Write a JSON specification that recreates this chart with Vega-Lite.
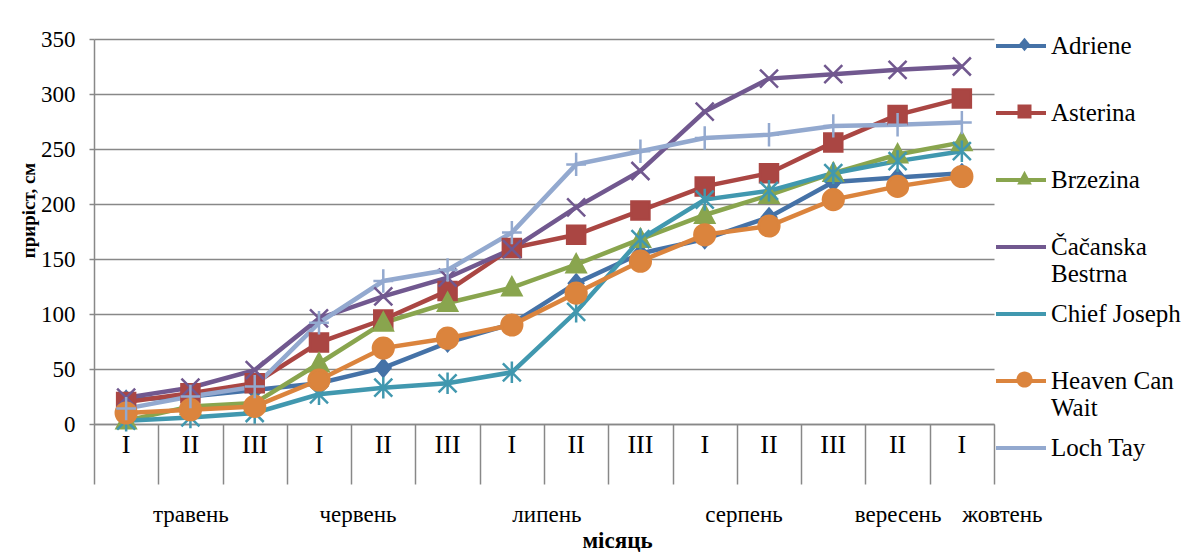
{
  "$schema": "https://vega.github.io/schema/vega-lite/v6.json",
  "width": 900,
  "height": 385,
  "autosize": {"type": "none"},
  "padding": {"left": 94, "top": 39, "right": 208, "bottom": 133},
  "background": "white",
  "config": {
    "view": {"stroke": null},
    "font": "Liberation Serif",
    "axis": {"labelFont": "Liberation Serif", "titleFont": "Liberation Serif"},
    "legend": {"labelFont": "Liberation Serif", "titleFont": "Liberation Serif", "padding": 0}
  },
  "data": {
    "values": [
      {"period": "травень|I", "variety": "Adriene", "growth": 22},
      {"period": "травень|II", "variety": "Adriene", "growth": 25},
      {"period": "травень|III", "variety": "Adriene", "growth": 31},
      {"period": "червень|I", "variety": "Adriene", "growth": 37},
      {"period": "червень|II", "variety": "Adriene", "growth": 51},
      {"period": "червень|III", "variety": "Adriene", "growth": 74},
      {"period": "липень|I", "variety": "Adriene", "growth": 91},
      {"period": "липень|II", "variety": "Adriene", "growth": 128},
      {"period": "липень|III", "variety": "Adriene", "growth": 155},
      {"period": "серпень|I", "variety": "Adriene", "growth": 168},
      {"period": "серпень|II", "variety": "Adriene", "growth": 188},
      {"period": "серпень|III", "variety": "Adriene", "growth": 220},
      {"period": "вересень|II", "variety": "Adriene", "growth": 224},
      {"period": "жовтень|I", "variety": "Adriene", "growth": 228},
      {"period": "травень|I", "variety": "Asterina", "growth": 20},
      {"period": "травень|II", "variety": "Asterina", "growth": 28},
      {"period": "травень|III", "variety": "Asterina", "growth": 37},
      {"period": "червень|I", "variety": "Asterina", "growth": 74},
      {"period": "червень|II", "variety": "Asterina", "growth": 95},
      {"period": "червень|III", "variety": "Asterina", "growth": 121},
      {"period": "липень|I", "variety": "Asterina", "growth": 160},
      {"period": "липень|II", "variety": "Asterina", "growth": 172},
      {"period": "липень|III", "variety": "Asterina", "growth": 194},
      {"period": "серпень|I", "variety": "Asterina", "growth": 216},
      {"period": "серпень|II", "variety": "Asterina", "growth": 228},
      {"period": "серпень|III", "variety": "Asterina", "growth": 256},
      {"period": "вересень|II", "variety": "Asterina", "growth": 281},
      {"period": "жовтень|I", "variety": "Asterina", "growth": 296},
      {"period": "травень|I", "variety": "Brzezina", "growth": 3},
      {"period": "травень|II", "variety": "Brzezina", "growth": 16},
      {"period": "травень|III", "variety": "Brzezina", "growth": 19},
      {"period": "червень|I", "variety": "Brzezina", "growth": 55},
      {"period": "червень|II", "variety": "Brzezina", "growth": 92},
      {"period": "червень|III", "variety": "Brzezina", "growth": 110},
      {"period": "липень|I", "variety": "Brzezina", "growth": 124},
      {"period": "липень|II", "variety": "Brzezina", "growth": 145},
      {"period": "липень|III", "variety": "Brzezina", "growth": 168},
      {"period": "серпень|I", "variety": "Brzezina", "growth": 190},
      {"period": "серпень|II", "variety": "Brzezina", "growth": 208},
      {"period": "серпень|III", "variety": "Brzezina", "growth": 228},
      {"period": "вересень|II", "variety": "Brzezina", "growth": 245},
      {"period": "жовтень|I", "variety": "Brzezina", "growth": 256},
      {"period": "травень|I", "variety": "Čačanska Bestrna", "growth": 24},
      {"period": "травень|II", "variety": "Čačanska Bestrna", "growth": 33},
      {"period": "травень|III", "variety": "Čačanska Bestrna", "growth": 49},
      {"period": "червень|I", "variety": "Čačanska Bestrna", "growth": 96},
      {"period": "червень|II", "variety": "Čačanska Bestrna", "growth": 116},
      {"period": "червень|III", "variety": "Čačanska Bestrna", "growth": 133},
      {"period": "липень|I", "variety": "Čačanska Bestrna", "growth": 159},
      {"period": "липень|II", "variety": "Čačanska Bestrna", "growth": 197},
      {"period": "липень|III", "variety": "Čačanska Bestrna", "growth": 230},
      {"period": "серпень|I", "variety": "Čačanska Bestrna", "growth": 284},
      {"period": "серпень|II", "variety": "Čačanska Bestrna", "growth": 314},
      {"period": "серпень|III", "variety": "Čačanska Bestrna", "growth": 318},
      {"period": "вересень|II", "variety": "Čačanska Bestrna", "growth": 322},
      {"period": "жовтень|I", "variety": "Čačanska Bestrna", "growth": 325},
      {"period": "травень|I", "variety": "Chief Joseph", "growth": 3},
      {"period": "травень|II", "variety": "Chief Joseph", "growth": 6},
      {"period": "травень|III", "variety": "Chief Joseph", "growth": 10},
      {"period": "червень|I", "variety": "Chief Joseph", "growth": 27},
      {"period": "червень|II", "variety": "Chief Joseph", "growth": 33},
      {"period": "червень|III", "variety": "Chief Joseph", "growth": 37},
      {"period": "липень|I", "variety": "Chief Joseph", "growth": 47},
      {"period": "липень|II", "variety": "Chief Joseph", "growth": 102},
      {"period": "липень|III", "variety": "Chief Joseph", "growth": 168},
      {"period": "серпень|I", "variety": "Chief Joseph", "growth": 204},
      {"period": "серпень|II", "variety": "Chief Joseph", "growth": 212},
      {"period": "серпень|III", "variety": "Chief Joseph", "growth": 228},
      {"period": "вересень|II", "variety": "Chief Joseph", "growth": 239},
      {"period": "жовтень|I", "variety": "Chief Joseph", "growth": 248},
      {"period": "травень|I", "variety": "Heaven Can Wait", "growth": 10},
      {"period": "травень|II", "variety": "Heaven Can Wait", "growth": 13},
      {"period": "травень|III", "variety": "Heaven Can Wait", "growth": 16},
      {"period": "червень|I", "variety": "Heaven Can Wait", "growth": 40},
      {"period": "червень|II", "variety": "Heaven Can Wait", "growth": 69},
      {"period": "червень|III", "variety": "Heaven Can Wait", "growth": 78},
      {"period": "липень|I", "variety": "Heaven Can Wait", "growth": 90},
      {"period": "липень|II", "variety": "Heaven Can Wait", "growth": 119},
      {"period": "липень|III", "variety": "Heaven Can Wait", "growth": 148},
      {"period": "серпень|I", "variety": "Heaven Can Wait", "growth": 172},
      {"period": "серпень|II", "variety": "Heaven Can Wait", "growth": 180},
      {"period": "серпень|III", "variety": "Heaven Can Wait", "growth": 204},
      {"period": "вересень|II", "variety": "Heaven Can Wait", "growth": 216},
      {"period": "жовтень|I", "variety": "Heaven Can Wait", "growth": 225},
      {"period": "травень|I", "variety": "Loch Tay", "growth": 14},
      {"period": "травень|II", "variety": "Loch Tay", "growth": 25},
      {"period": "травень|III", "variety": "Loch Tay", "growth": 34},
      {"period": "червень|I", "variety": "Loch Tay", "growth": 92},
      {"period": "червень|II", "variety": "Loch Tay", "growth": 130},
      {"period": "червень|III", "variety": "Loch Tay", "growth": 140},
      {"period": "липень|I", "variety": "Loch Tay", "growth": 174},
      {"period": "липень|II", "variety": "Loch Tay", "growth": 236},
      {"period": "липень|III", "variety": "Loch Tay", "growth": 248},
      {"period": "серпень|I", "variety": "Loch Tay", "growth": 260},
      {"period": "серпень|II", "variety": "Loch Tay", "growth": 263},
      {"period": "серпень|III", "variety": "Loch Tay", "growth": 271},
      {"period": "вересень|II", "variety": "Loch Tay", "growth": 272},
      {"period": "жовтень|I", "variety": "Loch Tay", "growth": 274}
    ]
  },
  "encoding": {
    "y": {
      "field": "growth",
      "type": "quantitative",
      "scale": {"domain": [0, 350], "nice": false, "zero": true},
      "axis": {
        "values": [0, 50, 100, 150, 200, 250, 300, 350],
        "grid": true,
        "gridColor": "#888888",
        "gridWidth": 1.5,
        "domainColor": "#888888",
        "domainWidth": 1.5,
        "tickColor": "#888888",
        "tickWidth": 1.5,
        "tickSize": 5,
        "labelFont": "Liberation Serif",
        "labelFontSize": 23,
        "labelPadding": 14,
        "labelColor": "black",
        "title": "приріст, см",
        "titleFont": "Liberation Serif",
        "titleFontSize": 19,
        "titleFontWeight": "bold",
        "titleColor": "black",
        "titleAngle": -90,
        "titleX": -66,
        "titleY": 171,
        "titleAlign": "center",
        "titleBaseline": "middle"
      }
    }
  },
  "layer": [
    {
      "mark": {"type": "line", "strokeWidth": 4.5},
      "encoding": {
        "x": {
          "field": "period",
          "type": "nominal",
          "scale": {
            "type": "band",
            "domain": ["травень|I", "травень|II", "травень|III", "червень|I", "червень|II", "червень|III", "липень|I", "липень|II", "липень|III", "серпень|I", "серпень|II", "серпень|III", "вересень|II", "жовтень|I"],
            "paddingInner": 0,
            "paddingOuter": 0
          },
          "axis": {
            "orient": "bottom",
            "title": null,
            "ticks": false,
            "grid": false,
            "domain": true,
            "domainColor": "#888888",
            "domainWidth": 1.5,
            "labelExpr": "split(datum.value, '|')[1]",
            "labelAngle": 0,
            "labelFont": "Liberation Serif",
            "labelFontSize": 26,
            "labelPadding": 7,
            "labelColor": "black",
            "labelOverlap": false
          }
        },
        "color": {
          "field": "variety",
          "type": "nominal",
          "scale": {
            "domain": ["Adriene", "Asterina", "Brzezina", "Čačanska Bestrna", "Chief Joseph", "Heaven Can Wait", "Loch Tay"],
            "range": ["#4572A7", "#AA4643", "#89A54E", "#71588F", "#4198AF", "#DB843D", "#93A9CF"]
          },
          "legend": {
            "orient": "none",
            "legendX": 900,
            "legendY": -20,
            "title": null,
            "direction": "vertical",
            "gridAlign": "all",
            "rowPadding": 0,
            "symbolType": "stroke",
            "symbolSize": 2500,
            "symbolStrokeWidth": 4,
            "labelFont": "Liberation Serif",
            "labelFontSize": 25,
            "labelOffset": 3,
            "labelColor": "black",
            "labelLimit": 300,
            "labelExpr": "datum.value == 'Čačanska Bestrna' ? ['Čačanska', 'Bestrna'] : datum.value == 'Heaven Can Wait' ? ['Heaven Can', 'Wait'] : datum.value"
          }
        }
      }
    },
    {
      "mark": {"type": "point", "filled": true, "size": 324, "opacity": 1, "strokeWidth": 2.5},
      "encoding": {
        "x": {
          "field": "period",
          "type": "nominal",
          "scale": {
            "type": "band",
            "domain": ["травень|I", "травень|II", "травень|III", "червень|I", "червень|II", "червень|III", "липень|I", "липень|II", "липень|III", "серпень|I", "серпень|II", "серпень|III", "вересень|II", "жовтень|I"],
            "paddingInner": 0,
            "paddingOuter": 0
          },
          "axis": {
            "orient": "bottom",
            "domain": false,
            "grid": false,
            "ticks": true,
            "tickBand": "extent",
            "tickSize": 60,
            "tickColor": "#888888",
            "tickWidth": 1.5,
            "labelExpr": "indexof(['травень|II', 'червень|I', 'липень|I', 'серпень|I', 'вересень|II', 'жовтень|I'], datum.value) >= 0 ? split(datum.value, '|')[0] : ''",
            "labelAlign": {"expr": "split(datum.value, '|')[1] == 'I' ? 'left' : 'center'"},
            "labelAngle": 0,
            "labelFont": "Liberation Serif",
            "labelFontSize": 23,
            "labelPadding": 19,
            "labelColor": "black",
            "labelOverlap": false,
            "title": "місяць",
            "titleFont": "Liberation Serif",
            "titleFontSize": 23,
            "titleFontWeight": "bold",
            "titleColor": "black",
            "titleX": 523,
            "titleY": 123,
            "titleBaseline": "alphabetic",
            "titleAlign": "center"
          }
        },
        "color": {
          "field": "variety",
          "type": "nominal",
          "scale": {
            "domain": ["Adriene", "Asterina", "Brzezina", "Čačanska Bestrna", "Chief Joseph", "Heaven Can Wait", "Loch Tay"],
            "range": ["#4572A7", "#AA4643", "#89A54E", "#71588F", "#4198AF", "#DB843D", "#93A9CF"]
          },
          "legend": {
            "orient": "none",
            "legendX": 918,
            "legendY": -7,
            "title": null,
            "direction": "vertical",
            "gridAlign": "all",
            "rowPadding": 14,
            "symbolSize": 196,
            "symbolStrokeWidth": 2,
            "labelFont": "Liberation Serif",
            "labelFontSize": 25,
            "labelColor": "black",
            "labelLimit": 300,
            "labelExpr": "['', '']"
          }
        },
        "shape": {
          "field": "variety",
          "type": "nominal",
          "scale": {
            "domain": ["Adriene", "Asterina", "Brzezina", "Čačanska Bestrna", "Chief Joseph", "Heaven Can Wait", "Loch Tay"],
            "range": ["M0,-0.95L0.8,0L0,0.95L-0.8,0Z", "M-1,-1L1,-1L1,1L-1,1Z", "M0,-1.1L1.05,0.85L-1.05,0.85Z", "M-1,-1L1,1M1,-1L-1,1", "M-1,-1L1,1M1,-1L-1,1M0,-1.2L0,1.2", "M1.15,0A1.15,1.15,0,1,1,-1.15,0A1.15,1.15,0,1,1,1.15,0Z", "M-1.1,0L1.1,0M0,-1.3L0,1.3"]
          },
          "legend": {
            "orient": "none",
            "legendX": 918,
            "legendY": -7,
            "title": null,
            "direction": "vertical",
            "gridAlign": "all",
            "rowPadding": 14,
            "symbolSize": 196,
            "symbolStrokeWidth": 2,
            "labelFont": "Liberation Serif",
            "labelFontSize": 25,
            "labelColor": "black",
            "labelLimit": 300,
            "labelExpr": "['', '']"
          }
        },
        "stroke": {
          "field": "variety",
          "type": "nominal",
          "scale": {
            "domain": ["Adriene", "Asterina", "Brzezina", "Čačanska Bestrna", "Chief Joseph", "Heaven Can Wait", "Loch Tay"],
            "range": ["#4572A7", "#AA4643", "#89A54E", "#71588F", "#4198AF", "#DB843D", "#93A9CF"]
          },
          "legend": null
        }
      }
    }
  ],
  "resolve": {"axis": {"x": "independent"}, "legend": {"color": "independent", "shape": "independent"}}
}
